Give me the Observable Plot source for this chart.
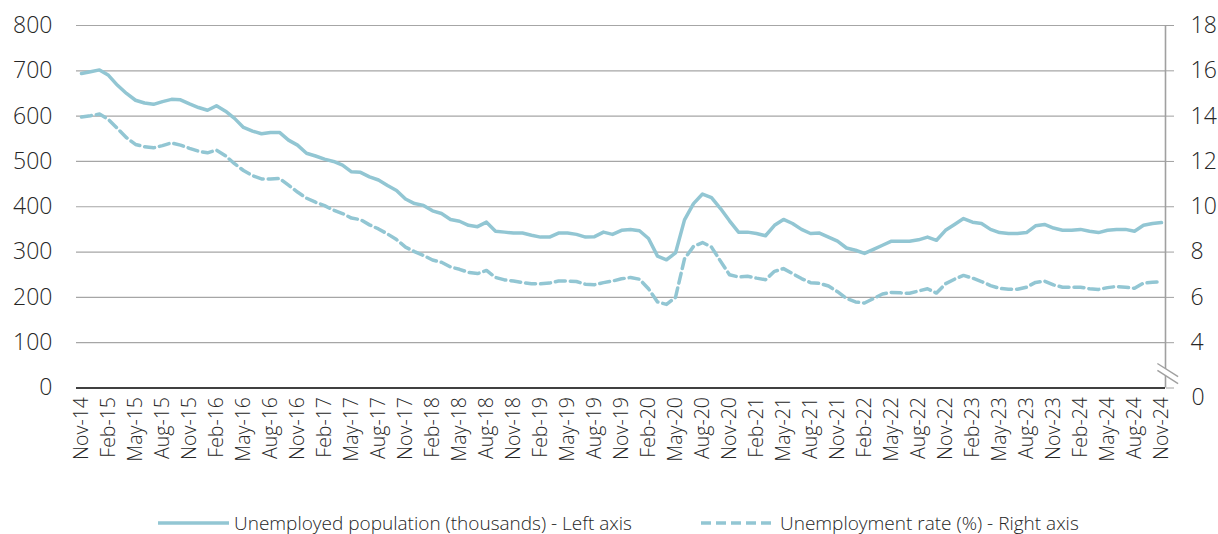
<!DOCTYPE html>
<html><head><meta charset="utf-8">
<script src="https://cdn.jsdelivr.net/npm/d3@7"></script>
<script src="https://cdn.jsdelivr.net/npm/@observablehq/plot@0.6"></script>
<style>
body{margin:0;background:#fff;font-family:"Open Sans",sans-serif;}
#legend{position:relative;height:44px;width:1218px;font-size:19px;color:#262626;font-weight:300;font-family:"Open Sans",sans-serif;}
#legend .item{position:absolute;top:20px;height:26px;line-height:26px;white-space:nowrap;}
#legend svg{position:absolute;top:0;}
</style></head><body><div id="chart"></div><div id="legend"></div>
<script>
const tickLabels = ["Nov-14","Feb-15","May-15","Aug-15","Nov-15","Feb-16","May-16","Aug-16","Nov-16","Feb-17","May-17","Aug-17","Nov-17","Feb-18","May-18","Aug-18","Nov-18","Feb-19","May-19","Aug-19","Nov-19","Feb-20","May-20","Aug-20","Nov-20","Feb-21","May-21","Aug-21","Nov-21","Feb-22","May-22","Aug-22","Nov-22","Feb-23","May-23","Aug-23","Nov-23","Feb-24","May-24","Aug-24","Nov-24"];

// Unemployed population (thousands), monthly Nov-14 .. Nov-24
const unemployed = [
 694,698,702,690,668,650,635,629,626,632,
 637,636,627,619,613,623,611,595,575,567,
 561,564,564,547,536,518,512,505,500,492,
 477,476,466,459,447,436,417,407,403,391,
 385,372,368,359,356,366,346,344,342,342,
 337,333,333,342,342,339,333,334,344,339,
 348,350,347,330,291,283,298,371,407,428,
 420,396,369,344,344,341,336,359,372,363,
 350,341,342,333,324,309,304,297,306,315,
 324,324,324,327,333,326,348,361,374,366,
 363,350,343,341,341,343,358,361,353,348,
 348,350,346,343,348,350,350,346,359,363,
 365];

// Unemployment rate (%), monthly Nov-14 .. Nov-24
const rate = [
 13.96,14.02,14.09,13.85,13.45,13.05,12.75,12.65,12.6,12.7,
 12.82,12.72,12.58,12.45,12.38,12.5,12.25,11.9,11.6,11.37,
 11.23,11.22,11.25,10.95,10.65,10.38,10.2,10.05,9.85,9.7,
 9.5,9.43,9.2,9.02,8.8,8.55,8.22,8.02,7.85,7.65,
 7.55,7.34,7.24,7.1,7.05,7.19,6.88,6.77,6.72,6.65,
 6.6,6.6,6.63,6.72,6.72,6.7,6.58,6.56,6.65,6.72,
 6.82,6.88,6.8,6.38,5.8,5.69,6.0,7.7,8.25,8.42,
 8.22,7.6,7.0,6.9,6.93,6.85,6.78,7.15,7.27,7.05,
 6.83,6.65,6.62,6.5,6.25,5.95,5.8,5.75,5.95,6.15,
 6.22,6.2,6.18,6.28,6.38,6.19,6.6,6.8,6.97,6.85,
 6.7,6.52,6.4,6.36,6.36,6.45,6.66,6.72,6.55,6.45,
 6.45,6.45,6.38,6.35,6.43,6.48,6.45,6.4,6.63,6.67,
 6.68];

const leftTicks = [0,100,200,300,400,500,600,700,800];
const rightTicks = [4,6,8,10,12,14,16,18];
const seriesNames = ["Unemployed population (thousands) - Left axis","Unemployment rate (%) - Right axis"];
const lineColor = "#92c6d3";

// right-axis value -> left-axis units (4 ↔ 100, 18 ↔ 800)
const toLeft = r => 100 + (r - 4) * 50;
const toRight = l => 4 + (l - 100) / 50;

const data = unemployed.map((u, i) => ({i, u, r: rate[i], rl: toLeft(rate[i])}));
const tickIdx = tickLabels.map((d, k) => k * 3);
const x0 = -0.556, x1 = 120.444;

const plot = Plot.plot({
  width: 1218, height: 490,
  marginLeft: 76, marginRight: 53, marginTop: 25, marginBottom: 102.5,
  style: {fontFamily: "Open Sans, sans-serif", color: "#262626", background: "#fff", overflow: "visible"},
  x: {domain: [x0, x1], axis: null},
  y: {domain: [0, 800], axis: null},
  marks: [
    Plot.ruleY(leftTicks.filter(d => d > 0), {x1: x0, x2: x1, stroke: "#a6a6a6", strokeWidth: 1.2}),
    Plot.axisY({anchor: "left", ticks: leftTicks, tickSize: 0, tickPadding: 24, label: null, fill: "#262626"}),
    Plot.axisX({anchor: "bottom", ticks: tickIdx, tickFormat: d => tickLabels[Math.round(d / 3)], tickRotate: -90, tickSize: 0, tickPadding: 9, label: null, fill: "#262626"}),
    // right axis
    Plot.ruleX([x1], {y1: 0, y2: 800, stroke: "#a0a0a0", strokeWidth: 1.6}),
    Plot.axisY({anchor: "right", ticks: [0, ...rightTicks.map(toLeft)], tickFormat: d => d === 0 ? "" : String(Math.round(toRight(d))), tickSize: 8, tickPadding: 17, label: null, stroke: "#a0a0a0", fill: "#262626"}),
    Plot.text([0], {x: x1, y: 0, text: () => "0", dx: 26, dy: 10, textAnchor: "start", fill: "#262626"}),
    // axis break marks
    Plot.link([0], {x1: x1 - 0.9, x2: x1 + 1.4, y1: 46, y2: 17, stroke: "#fff", strokeWidth: 6}),
    Plot.link([54, 38.7], {x1: x1 - 0.9, x2: x1 + 1.4, y1: d => d, y2: d => d - 29, stroke: "#a0a0a0", strokeWidth: 1.4}),
    Plot.ruleY([0], {x1: x0, x2: x1, stroke: "#000", strokeWidth: 1.3}),
    // series
    Plot.line(data, {x: "i", y: "rl", stroke: lineColor, strokeWidth: 3.5, strokeDasharray: "10,5", curve: "linear"}),
    Plot.line(data, {x: "i", y: "u", stroke: lineColor, strokeWidth: 3.5, curve: "linear"})
  ]
});
document.getElementById("chart").appendChild(plot);

// label font sizes / weight
plot.querySelectorAll("text").forEach(t => {
  const rot = (t.getAttribute("transform") || "").includes("rotate");
  t.style.fontSize = rot ? "19.5px" : "23px";
  t.style.fontWeight = "300";
});

const lg = document.getElementById("legend");
const items = [
  {x: 158, w: 71, dash: null, tx: 234, label: seriesNames[0]},
  {x: 701, w: 75, dash: "10,5", tx: 780, label: seriesNames[1]}
];
items.forEach(it => {
  const s = d3.create("svg").attr("width", it.w).attr("height", 44).style("left", it.x + "px");
  s.append("line").attr("x1", 0).attr("x2", it.w).attr("y1", 33).attr("y2", 33)
    .attr("stroke", lineColor).attr("stroke-width", 3.6).attr("stroke-dasharray", it.dash);
  lg.appendChild(s.node());
  const t = document.createElement("div");
  t.className = "item"; t.style.left = it.tx + "px"; t.textContent = it.label;
  lg.appendChild(t);
});
</script></body></html>
